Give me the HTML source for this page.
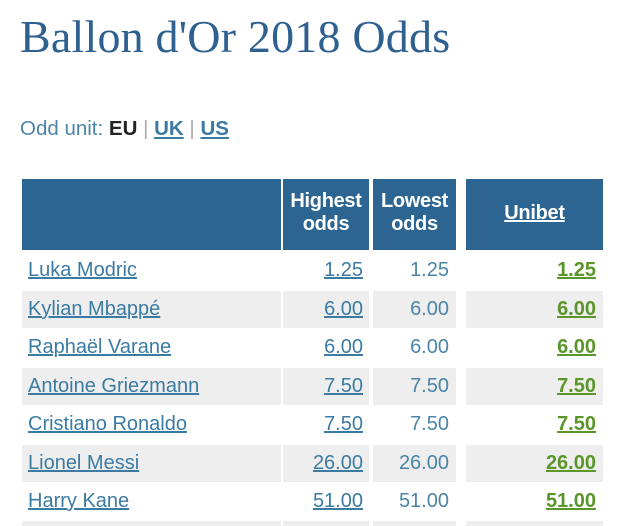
<!DOCTYPE html>
<html><head><meta charset="utf-8"><style>
body{margin:0;width:640px;height:523px;overflow:hidden;background:#fff;font-family:"Liberation Sans",Arial,sans-serif;position:relative}
.t{position:absolute;left:20px;top:10px;font-family:"Liberation Serif",serif;font-size:46px;color:#2f6190;white-space:nowrap;letter-spacing:0.2px}
.u{position:absolute;left:20px;top:117px;font-size:20.5px;color:#4a85a8}
.u b{color:#222}.u a{color:#3b7ba3;font-weight:bold;text-decoration:underline}.u span{color:#aaa}
.c{position:absolute;box-sizing:border-box}
.h{background:#2d6592;color:#fff;font-weight:bold;font-size:20px;text-align:center;line-height:23px;letter-spacing:-0.3px}
.g{background:#eee}
.x{position:absolute;font-size:20px;color:#3b7ba3;white-space:nowrap;line-height:20px}
.l{text-decoration:underline}
.gr{color:#5a962a;font-weight:bold;text-decoration:underline}
.n{color:#4a85a8}
</style></head><body>
<div class="t">Ballon d'Or 2018 Odds</div>
<div class="u">Odd unit: <b>EU</b> <span>|</span> <a>UK</a> <span>|</span> <a>US</a></div>
<div class="c h" style="left:22px;top:179px;width:259px;height:71px"></div>
<div class="c h" style="left:283px;top:179px;width:86px;height:71px;padding-top:11px">Highest<br>odds</div>
<div class="c h" style="left:373px;top:179px;width:83px;height:71px;padding-top:11px">Lowest<br>odds</div>
<div class="c h" style="left:466px;top:179px;width:137px;height:71px;padding-top:23px"><u>Unibet</u></div>
<div class="c g" style="left:22px;top:291px;width:259px;height:37px"></div>
<div class="c g" style="left:283px;top:291px;width:86px;height:37px"></div>
<div class="c g" style="left:373px;top:291px;width:83px;height:37px"></div>
<div class="c g" style="left:466px;top:291px;width:137px;height:37px"></div>
<div class="c g" style="left:22px;top:368px;width:259px;height:37px"></div>
<div class="c g" style="left:283px;top:368px;width:86px;height:37px"></div>
<div class="c g" style="left:373px;top:368px;width:83px;height:37px"></div>
<div class="c g" style="left:466px;top:368px;width:137px;height:37px"></div>
<div class="c g" style="left:22px;top:445px;width:259px;height:37px"></div>
<div class="c g" style="left:283px;top:445px;width:86px;height:37px"></div>
<div class="c g" style="left:373px;top:445px;width:83px;height:37px"></div>
<div class="c g" style="left:466px;top:445px;width:137px;height:37px"></div>
<div class="c g" style="left:22px;top:521px;width:259px;height:5px"></div>
<div class="c g" style="left:283px;top:521px;width:86px;height:5px"></div>
<div class="c g" style="left:373px;top:521px;width:83px;height:5px"></div>
<div class="c g" style="left:466px;top:521px;width:137px;height:5px"></div>

<div class="x l" style="left:28px;top:260px">Luka Modric</div>
<div class="x l" style="right:277px;top:260px">1.25</div>
<div class="x n" style="right:191px;top:260px">1.25</div>
<div class="x gr" style="right:44px;top:260px">1.25</div>

<div class="x l" style="left:28px;top:299px">Kylian Mbappé</div>
<div class="x l" style="right:277px;top:299px">6.00</div>
<div class="x n" style="right:191px;top:299px">6.00</div>
<div class="x gr" style="right:44px;top:299px">6.00</div>

<div class="x l" style="left:28px;top:337px">Raphaël Varane</div>
<div class="x l" style="right:277px;top:337px">6.00</div>
<div class="x n" style="right:191px;top:337px">6.00</div>
<div class="x gr" style="right:44px;top:337px">6.00</div>

<div class="x l" style="left:28px;top:376px">Antoine Griezmann</div>
<div class="x l" style="right:277px;top:376px">7.50</div>
<div class="x n" style="right:191px;top:376px">7.50</div>
<div class="x gr" style="right:44px;top:376px">7.50</div>

<div class="x l" style="left:28px;top:414px">Cristiano Ronaldo</div>
<div class="x l" style="right:277px;top:414px">7.50</div>
<div class="x n" style="right:191px;top:414px">7.50</div>
<div class="x gr" style="right:44px;top:414px">7.50</div>

<div class="x l" style="left:28px;top:453px">Lionel Messi</div>
<div class="x l" style="right:277px;top:453px">26.00</div>
<div class="x n" style="right:191px;top:453px">26.00</div>
<div class="x gr" style="right:44px;top:453px">26.00</div>

<div class="x l" style="left:28px;top:491px">Harry Kane</div>
<div class="x l" style="right:277px;top:491px">51.00</div>
<div class="x n" style="right:191px;top:491px">51.00</div>
<div class="x gr" style="right:44px;top:491px">51.00</div>
</body></html>
